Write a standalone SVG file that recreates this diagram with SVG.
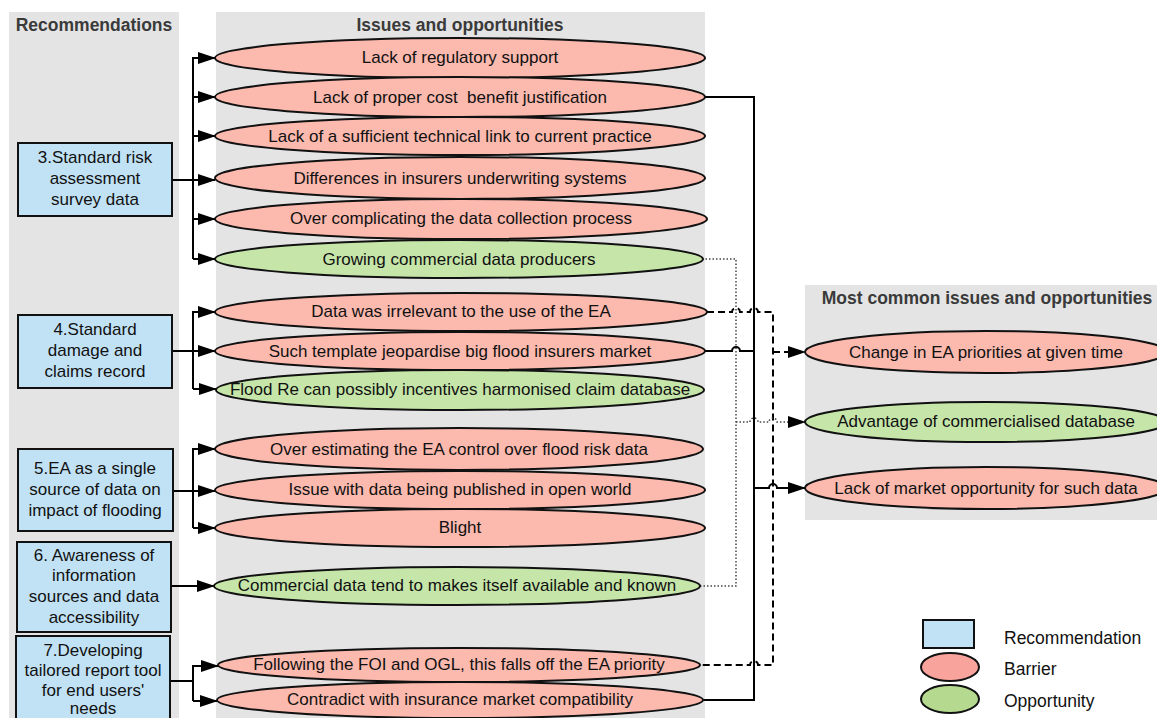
<svg xmlns="http://www.w3.org/2000/svg" width="1157" height="718" viewBox="0 0 1157 718">
<defs>
<style>
text{font-family:"Liberation Sans",Arial,sans-serif;font-size:17px;fill:#111;text-anchor:middle}
.title{font-weight:bold;fill:#3a3a3a;font-size:17.5px}
.panel{fill:#e4e4e4}
.rec{fill:#c1e2f5;stroke:#111;stroke-width:2}
.bar{fill:#fcb9ae;stroke:#111;stroke-width:2}
.opp{fill:#c6e6a9;stroke:#111;stroke-width:2}
.c{fill:none;stroke:#000;stroke-width:2}
.d{fill:none;stroke:#000;stroke-width:2;stroke-dasharray:7,4}
.o{fill:none;stroke:#444;stroke-width:1.5;stroke-dasharray:1.5,2}
.lt{text-anchor:start;font-size:17.5px}
</style>
<marker id="ah" markerUnits="userSpaceOnUse" markerWidth="18" markerHeight="12" refX="17" refY="6" orient="auto" viewBox="0 0 18 12">
<path d="M0,0 L18,6 L0,12 z" fill="#000"/>
</marker>
</defs>
<rect width="1157" height="718" fill="#fff"/>
<g id="panels">
<rect class="panel" x="9" y="12" width="170" height="706"/>
<rect class="panel" x="216" y="12" width="489" height="706"/>
<rect class="panel" x="805" y="285" width="352" height="235"/>
<text class="title" x="94" y="31">Recommendations</text>
<text class="title" x="460" y="31">Issues and opportunities</text>
<text class="title" x="987" y="304">Most common issues and opportunities</text>
</g>
<g id="connectors">
<path class="c" d="M172,180 H193"/>
<path class="c" d="M193,57 V259"/>
<path class="c" marker-end="url(#ah)" d="M193,58 H215"/>
<path class="c" marker-end="url(#ah)" d="M193,97 H215"/>
<path class="c" marker-end="url(#ah)" d="M193,136 H215"/>
<path class="c" marker-end="url(#ah)" d="M193,180 H215"/>
<path class="c" marker-end="url(#ah)" d="M193,219 H215"/>
<path class="c" marker-end="url(#ah)" d="M193,259 H215"/>
<path class="c" d="M172,351 H193"/>
<path class="c" d="M193,311 V389"/>
<path class="c" marker-end="url(#ah)" d="M193,312 H215"/>
<path class="c" marker-end="url(#ah)" d="M193,351 H215"/>
<path class="c" marker-end="url(#ah)" d="M193,389 H216"/>
<path class="c" d="M173,491 H193"/>
<path class="c" d="M193,448 V528"/>
<path class="c" marker-end="url(#ah)" d="M193,449 H215"/>
<path class="c" marker-end="url(#ah)" d="M193,491 H215"/>
<path class="c" marker-end="url(#ah)" d="M193,528 H215"/>
<path class="c" marker-end="url(#ah)" d="M171,586 H214"/>
<path class="c" d="M170,681 H193"/>
<path class="c" d="M193,665 V701"/>
<path class="c" marker-end="url(#ah)" d="M193,666 H218"/>
<path class="c" marker-end="url(#ah)" d="M193,701 H217"/>
<path class="c" d="M704,97 H754 V700 H703"/>
<path class="c" d="M705,351 H732 a4,4 0 0 1 8,0 H754"/>
<path class="c" marker-end="url(#ah)" d="M754,488 H769 a4,4 0 0 1 8,0 H805"/>
<path class="d" d="M707,312 H732 a4,4 0 0 1 8,0 H750 a4,4 0 0 1 8,0 H773 V665 H758 a4,4 0 0 0 -8,0 H700"/>
<path class="d" marker-end="url(#ah)" d="M773,352 H805"/>
<path class="o" d="M702,259 H736 V586 H700"/>
<path class="o" marker-end="url(#ah)" d="M736,422 H750 a4,4 0 0 1 8,0 H769 a4,4 0 0 1 8,0 H805"/>
</g>
<g id="rec3"><rect class="rec" x="18" y="143" width="154" height="73"/><text x="95" y="163">3.Standard risk</text><text x="95" y="184">assessment</text><text x="95" y="205">survey data</text></g>
<g id="rec4"><rect class="rec" x="18" y="315" width="154" height="73"/><text x="95" y="335">4.Standard</text><text x="95" y="356">damage and</text><text x="95" y="377">claims record</text></g>
<g id="rec5"><rect class="rec" x="18" y="449" width="155" height="82"/><text x="95" y="474">5.EA as a single</text><text x="95" y="495">source of data on</text><text x="95" y="516">impact of flooding</text></g>
<g id="rec6"><rect class="rec" x="17" y="542" width="154" height="90"/><text x="94" y="561">6. Awareness of</text><text x="94" y="581">information</text><text x="94" y="602">sources and data</text><text x="94" y="623">accessibility</text></g>
<g id="rec7"><rect class="rec" x="16" y="636" width="154" height="90"/><text x="93" y="656">7.Developing</text><text x="93" y="676">tailored report tool</text><text x="93" y="696">for end users'</text><text x="93" y="714">needs</text></g>
<g id="e1"><ellipse class="bar" cx="460" cy="58" rx="245" ry="20"/><text x="460" y="63">Lack of regulatory support</text></g>
<g id="e2"><ellipse class="bar" cx="460" cy="97" rx="245" ry="20"/><text x="460" y="103" xml:space="preserve">Lack of proper cost  benefit justification</text></g>
<g id="e3"><ellipse class="bar" cx="460" cy="136" rx="245" ry="19"/><text x="460" y="142">Lack of a sufficient technical link to current practice</text></g>
<g id="e4"><ellipse class="bar" cx="460" cy="178" rx="245" ry="21"/><text x="460" y="184">Differences in insurers underwriting systems</text></g>
<g id="e5"><ellipse class="bar" cx="461" cy="219" rx="246" ry="20"/><text x="461" y="224">Over complicating the data collection process</text></g>
<g id="e6"><ellipse class="opp" cx="459" cy="259" rx="244" ry="19"/><text x="459" y="265">Growing commercial data producers</text></g>
<g id="e7"><ellipse class="bar" cx="461" cy="312" rx="246" ry="19"/><text x="461" y="317">Data was irrelevant to the use of the EA</text></g>
<g id="e8"><ellipse class="bar" cx="460" cy="351" rx="245" ry="19"/><text x="460" y="357">Such template jeopardise big flood insurers market</text></g>
<g id="e9"><ellipse class="opp" cx="460" cy="390" rx="244" ry="20"/><text x="460" y="395">Flood Re can possibly incentives harmonised claim database</text></g>
<g id="e10"><ellipse class="bar" cx="459" cy="449" rx="244" ry="21"/><text x="459" y="455">Over estimating the EA control over flood risk data</text></g>
<g id="e11"><ellipse class="bar" cx="460" cy="490" rx="245" ry="19"/><text x="460" y="495">Issue with data being published in open world</text></g>
<g id="e12"><ellipse class="bar" cx="460" cy="528" rx="245" ry="19"/><text x="460" y="533">Blight</text></g>
<g id="e13"><ellipse class="opp" cx="457" cy="586" rx="243" ry="19"/><text x="457" y="591">Commercial data tend to makes itself available and known</text></g>
<g id="e14"><ellipse class="bar" cx="459" cy="665" rx="241" ry="17"/><text x="459" y="670">Following the FOI and OGL, this falls off the EA priority</text></g>
<g id="e15"><ellipse class="bar" cx="460" cy="700" rx="243" ry="18"/><text x="460" y="705">Contradict with insurance market compatibility</text></g>
<g id="m1"><ellipse class="bar" cx="986" cy="352" rx="181" ry="21"/><text x="986" y="358">Change in EA priorities at given time</text></g>
<g id="m2"><ellipse class="opp" cx="986" cy="422" rx="181" ry="20"/><text x="986" y="427">Advantage of commercialised database</text></g>
<g id="m3"><ellipse class="bar" cx="986" cy="488" rx="181" ry="21"/><text x="986" y="494">Lack of market opportunity for such data</text></g>
<g id="legend">
<rect class="rec" x="923" y="620" width="51" height="28"/>
<ellipse cx="950" cy="667" rx="29" ry="14" fill="#f8a39b" stroke="#111" stroke-width="2"/>
<ellipse cx="950" cy="699" rx="29" ry="14" fill="#b5da8f" stroke="#111" stroke-width="2"/>
<text class="lt" x="1004" y="644">Recommendation</text>
<text class="lt" x="1004" y="675">Barrier</text>
<text class="lt" x="1004" y="707">Opportunity</text>
</g>
</svg>
